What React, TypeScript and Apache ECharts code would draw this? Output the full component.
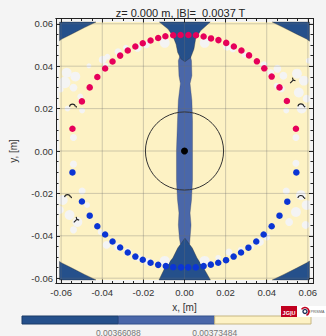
import React, { useEffect, useRef } from 'react';
import * as echarts from 'echarts';

// Axis extent and ticks (metres)
const AXIS_MIN = -0.0625;
const AXIS_MAX = 0.0625;
const MAJOR_TICKS = [-0.06, -0.04, -0.02, 0, 0.02, 0.04, 0.06];
const MINOR_TICKS = [
  -0.055, -0.05, -0.045, -0.035, -0.03, -0.025, -0.015, -0.01, -0.005,
  0.005, 0.01, 0.015, 0.025, 0.03, 0.035, 0.045, 0.05, 0.055,
];

// Sampled field extent (half width, metres)
const FIELD_HALF = 0.0608;

// Field levels and their colours (low -> high |B|)
const LEVEL_COLORS = ['#25508b', '#4a67a9', '#fdf2c4'];
const LEVEL_BREAKS = [0.00366088, 0.00373484];
const MISSING_COLOR = '#f4f4f4';

// Lowest level: corner regions and the funnels at top/bottom of the axis
const LOW_REGIONS: number[][][] = [
  [[-0.0608, 0.0608], [-0.0431, 0.0608], [-0.0487, 0.0582], [-0.055, 0.0551], [-0.0597, 0.0528], [-0.0608, 0.052]],
  [[0.0608, 0.0608], [0.0427, 0.0608], [0.0482, 0.0582], [0.0546, 0.0551], [0.0594, 0.0528], [0.0608, 0.0518]],
  [[-0.0608, -0.0608], [-0.0431, -0.0608], [-0.0487, -0.0582], [-0.055, -0.0551], [-0.0597, -0.0528], [-0.0608, -0.0521]],
  [[0.0608, -0.0608], [0.0427, -0.0608], [0.0484, -0.0582], [0.0548, -0.0551], [0.0595, -0.0527], [0.0608, -0.0519]],
  [[-0.0122, 0.0608], [-0.008, 0.0575], [-0.0057, 0.0543], [-0.0041, 0.0504], [-0.0033, 0.0465], [-0.0017, 0.0434],
   [0.0002, 0.0421], [0.003, 0.0441], [0.0046, 0.0481], [0.0054, 0.0528], [0.0078, 0.0567], [0.0125, 0.0608]],
  [[0.0002, -0.0411], [-0.0033, -0.0458], [-0.0057, -0.0505], [-0.0096, -0.0552], [-0.0124, -0.0608],
   [0.0126, -0.0608], [0.0093, -0.0552], [0.0061, -0.0505], [0.0038, -0.0458]],
];

// Middle level: narrow strip along x = 0
const MID_REGIONS: number[][][] = [
  [
    [-0.0022, 0.045], [-0.003, 0.0426], [-0.0027, 0.0355], [-0.002, 0.0318], [-0.003, 0.0238], [-0.0034, 0.0144],
    [-0.0039, 0.0003], [-0.0039, -0.0138], [-0.0034, -0.0231], [-0.0027, -0.0292], [-0.003, -0.0349],
    [-0.0025, -0.041], [-0.002, -0.044],
    [0.0025, -0.044], [0.0027, -0.041], [0.0032, -0.0349], [0.0027, -0.0292], [0.0034, -0.0231],
    [0.0039, -0.0138], [0.0039, 0.0003], [0.0039, 0.0144], [0.0036, 0.0238], [0.0027, 0.0318],
    [0.0036, 0.0355], [0.0034, 0.0426], [0.0028, 0.045],
  ],
];

// Unsampled patches [x, y, radius]
const MISSING_PATCHES: number[][] = [
  [-0.0398, 0.0431, 0.0019], [-0.0384, 0.0402, 0.0014], [-0.0465, 0.0402, 0.0012], [-0.0573, 0.0369, 0.0024],
  [-0.0531, 0.0351, 0.0024], [-0.0583, 0.0323, 0.0028], [-0.054, 0.0299, 0.0019], [-0.0602, 0.029, 0.0014],
  [-0.0507, 0.0257, 0.0014], [-0.0323, 0.0468, 0.0017], [-0.0285, 0.0487, 0.0014], [-0.0228, 0.0487, 0.0019],
  [-0.0186, 0.0501, 0.0017], [-0.0096, 0.051, 0.0024], [-0.0569, 0.02, 0.0014], [-0.0498, 0.0191, 0.0014],
  [-0.054, 0.0064, 0.0017], [-0.0375, 0.0445, 0.0014],
  [0.0098, 0.051, 0.0024], [0.0207, 0.0492, 0.0019], [0.0235, 0.0482, 0.0017], [0.0292, 0.0454, 0.0014],
  [0.0386, 0.0407, 0.0017], [0.0419, 0.0369, 0.0017], [0.0452, 0.0388, 0.0019], [0.0481, 0.0355, 0.0019],
  [0.0471, 0.0294, 0.0017], [0.0448, 0.0308, 0.0014], [0.0547, 0.0365, 0.0024], [0.058, 0.0332, 0.0024],
  [0.0556, 0.0276, 0.0024], [0.0594, 0.0247, 0.0019], [0.057, 0.02, 0.0024], [0.0495, 0.0191, 0.0014],
  [0.0542, 0.0064, 0.0017], [0.0604, 0.0426, 0.0014],
  [-0.054, -0.0062, 0.0017], [-0.0498, -0.0189, 0.0017], [-0.0592, -0.0231, 0.0024], [-0.0606, -0.0278, 0.0019],
  [-0.0559, -0.0302, 0.0024], [-0.0521, -0.0335, 0.0024], [-0.054, -0.0372, 0.0017], [-0.0408, -0.0382, 0.0014],
  [-0.0379, -0.0443, 0.0019], [-0.0323, -0.0452, 0.0019], [-0.0276, -0.0476, 0.0019], [-0.0224, -0.0504, 0.0017],
  [-0.0176, -0.0523, 0.0019], [-0.0096, -0.0518, 0.0024], [-0.0474, -0.0255, 0.0014],
  [0.0542, -0.0058, 0.0017], [0.0495, -0.0189, 0.0017], [0.0566, -0.0208, 0.0024], [0.0594, -0.0255, 0.0024],
  [0.0542, -0.0288, 0.0024], [0.0509, -0.0335, 0.0019], [0.0589, -0.0349, 0.0019], [0.0367, -0.0429, 0.0019],
  [0.04, -0.0405, 0.0017], [0.0325, -0.0452, 0.0014], [0.0216, -0.0476, 0.0017], [0.0098, -0.0518, 0.0024],
  [0.0164, -0.0504, 0.0014], [0.0273, -0.0466, 0.0014],
];

// Small contour fragments: [x, y, kind] (0 = arc, 1 = fork)
const CONTOUR_MARKS: number[][] = [
  [-0.0545, 0.0214, 0], [-0.0569, -0.0213, 0], [0.0566, -0.0217, 0], [0.0566, 0.0215, 0],
  [0.0526, 0.0332, 1], [-0.0526, -0.0325, 1],
];

// Reference circle around the origin
const REF_CIRCLE = [0, 0, 0.019];
const CENTER_POINT = [[0, 0]];

// Probe positions, upper arc (red) and lower arc (blue)
const UPPER_PROBES: number[][] = [
  [-0.0545, 0.0105], [-0.0499, 0.0234], [-0.0461, 0.03], [-0.0424, 0.0349], [-0.0386, 0.0389],
  [-0.035, 0.0422], [-0.0313, 0.045], [-0.0276, 0.0474], [-0.0239, 0.0493], [-0.0203, 0.0508],
  [-0.0165, 0.0521], [-0.0128, 0.0533], [-0.0093, 0.0541], [-0.0055, 0.0546], [-0.0019, 0.0547],
  [0.0019, 0.0547], [0.0056, 0.0546], [0.0093, 0.054], [0.0129, 0.0531], [0.0165, 0.0523],
  [0.0203, 0.051], [0.024, 0.0493], [0.0277, 0.0474], [0.0314, 0.0451], [0.0352, 0.0423],
  [0.0388, 0.039], [0.0424, 0.0351], [0.0462, 0.03], [0.0498, 0.0236], [0.0542, 0.0105],
];
const LOWER_PROBES: number[][] = [
  [-0.0545, -0.0101], [-0.0499, -0.0238], [-0.0461, -0.0305], [-0.0424, -0.0355], [-0.0386, -0.0394],
  [-0.035, -0.0427], [-0.0313, -0.0455], [-0.0276, -0.0479], [-0.0239, -0.0498], [-0.0203, -0.0513],
  [-0.0165, -0.0527], [-0.0128, -0.0537], [-0.0091, -0.0543], [-0.0055, -0.0548], [-0.0017, -0.0549],
  [0.0018, -0.0549], [0.0055, -0.0549], [0.0093, -0.0543], [0.0128, -0.0536], [0.0164, -0.0527],
  [0.0202, -0.0515], [0.0239, -0.0498], [0.0275, -0.0479], [0.0311, -0.0456], [0.0349, -0.0427],
  [0.0385, -0.0394], [0.0424, -0.0355], [0.0462, -0.0305], [0.05, -0.0239], [0.0544, -0.0101],
];

const TITLE = 'z= 0.000 m, |B|=  0.0037 T';
const FONT = '"Liberation Sans", Arial, sans-serif';

const GRID = { left: 48, top: 18.5, width: 265, height: 265 };
const COLORBAR = { left: 22, top: 316, width: 289, height: 8 };

function polygonSeries(polys: number[][][], fill: string, stroke: string, z: number) {
  return {
    type: 'custom',
    coordinateSystem: 'cartesian2d',
    silent: true,
    z,
    clip: true,
    data: polys.map((p, i) => [p[0][0], p[0][1], i]),
    encode: { x: 0, y: 1 },
    renderItem: (params: any, api: any) => {
      const poly = polys[params.dataIndex];
      return {
        type: 'polygon',
        shape: { points: poly.map((pt) => api.coord(pt)) },
        style: { fill, stroke, lineWidth: 0.7 },
      };
    },
  };
}

function axis(kind: 'x' | 'y', position: string, ticks: number[], len: number, labels: boolean, extra: any = {}) {
  return {
    type: 'value',
    min: AXIS_MIN,
    max: AXIS_MAX,
    position,
    z: 10,
    axisLine: { show: true, onZero: false, lineStyle: { color: '#222', width: 1 } },
    axisTick: { show: true, inside: true, length: len, customValues: ticks, lineStyle: { color: '#222', width: 1 } },
    axisLabel: labels
      ? {
          show: true,
          customValues: MAJOR_TICKS,
          formatter: (v: number) => v.toFixed(2),
          color: '#333',
          fontSize: 9.5,
          fontFamily: FONT,
          margin: kind === 'x' ? 4 : 3,
        }
      : { show: false },
    splitLine: { show: false },
    ...extra,
  };
}

export default function App() {
  const ref = useRef<HTMLDivElement>(null);

  useEffect(() => {
    document.body.style.margin = '0';
    const chart = echarts.init(ref.current!, undefined, { renderer: 'svg' });

    const nameStyle = { color: '#333', fontSize: 10, fontFamily: FONT };
    const xAxes = [
      axis('x', 'bottom', MAJOR_TICKS, 4, true, {
        name: 'x, [m]', nameLocation: 'middle', nameGap: 16, nameTextStyle: nameStyle,
      }),
      axis('x', 'top', MAJOR_TICKS, 4, false),
      axis('x', 'bottom', MINOR_TICKS, 2.5, false),
      axis('x', 'top', MINOR_TICKS, 2.5, false),
    ];
    const yAxes = [
      axis('y', 'left', MAJOR_TICKS, 4, true, {
        name: 'y, [m]', nameLocation: 'middle', nameGap: 38, nameRotate: 90, nameTextStyle: nameStyle,
      }),
      axis('y', 'right', MAJOR_TICKS, 4, false),
      axis('y', 'left', MINOR_TICKS, 2.5, false),
      axis('y', 'right', MINOR_TICKS, 2.5, false),
    ];

    const segW = COLORBAR.width / LEVEL_COLORS.length;
    const strokeFor = ['#1b3a66', '#33508a', '#c6b681'];
    const colorbar: any[] = LEVEL_COLORS.map((c, i) => ({
      type: 'rect',
      shape: { x: COLORBAR.left + i * segW, y: COLORBAR.top, width: segW, height: COLORBAR.height },
      style: { fill: c, stroke: strokeFor[i], lineWidth: 1 },
    }));
    LEVEL_BREAKS.forEach((b, i) => {
      colorbar.push({
        type: 'text',
        x: COLORBAR.left + (i + 1) * segW,
        y: COLORBAR.top + COLORBAR.height + 4,
        style: { text: String(b), fill: '#777', fontSize: 8.5, fontFamily: FONT, align: 'center', verticalAlign: 'top' },
      });
    });

    const logos: any[] = [
      { type: 'rect', shape: { x: 281, y: 306, width: 16, height: 11 }, style: { fill: '#c1001f' } },
      {
        type: 'text', x: 289, y: 313,
        style: { text: 'JG|U', fill: '#fff', fontSize: 5.5, fontWeight: 'bold', fontFamily: FONT, align: 'center', verticalAlign: 'middle' },
      },
      { type: 'rect', shape: { x: 297, y: 306, width: 30, height: 11 }, style: { fill: '#ffffff' } },
      { type: 'arc', shape: { cx: 305, cy: 311.5, r: 4, startAngle: -2.6, endAngle: 1.2 }, style: { stroke: '#c1001f', lineWidth: 1.6, fill: 'none' } },
      { type: 'arc', shape: { cx: 305, cy: 311.5, r: 2, startAngle: 0, endAngle: 6.28 }, style: { stroke: '#1d2f55', lineWidth: 1.4, fill: 'none' } },
      {
        type: 'text', x: 310.5, y: 312,
        style: { text: 'PRISMA', fill: '#555', fontSize: 3.6, fontFamily: FONT, align: 'left', verticalAlign: 'middle' },
      },
    ];

    chart.setOption({
      animation: false,
      backgroundColor: MISSING_COLOR,
      grid: { ...GRID, show: true, backgroundColor: MISSING_COLOR, borderWidth: 0, containLabel: false },
      xAxis: xAxes,
      yAxis: yAxes,
      graphic: [
        {
          type: 'text', x: GRID.left + GRID.width / 2, y: 13,
          style: { text: TITLE, fill: '#222', fontSize: 11, fontFamily: FONT, align: 'center', verticalAlign: 'middle' },
        },
        ...colorbar,
        ...logos,
      ],
      series: [
        // top level background
        polygonSeries(
          [[[-FIELD_HALF, -FIELD_HALF], [FIELD_HALF, -FIELD_HALF], [FIELD_HALF, FIELD_HALF], [-FIELD_HALF, FIELD_HALF]]],
          LEVEL_COLORS[2], 'none', 1,
        ),
        polygonSeries(MID_REGIONS, LEVEL_COLORS[1], 'rgba(50,60,90,0.45)', 2),
        polygonSeries(LOW_REGIONS, LEVEL_COLORS[0], 'rgba(50,50,50,0.55)', 3),
        {
          type: 'custom', coordinateSystem: 'cartesian2d', silent: true, z: 4, clip: true,
          data: MISSING_PATCHES, encode: { x: 0, y: 1 },
          renderItem: (params: any, api: any) => {
            const p = MISSING_PATCHES[params.dataIndex];
            const c = api.coord([p[0], p[1]]);
            return { type: 'circle', shape: { cx: c[0], cy: c[1], r: api.size([p[2], 0])[0] }, style: { fill: MISSING_COLOR } };
          },
        },
        // grid lines
        {
          type: 'custom', coordinateSystem: 'cartesian2d', silent: true, z: 5,
          data: MAJOR_TICKS.map((v) => [v, 0]), encode: { x: 0, y: 1 },
          renderItem: (params: any, api: any) => {
            const v = MAJOR_TICKS[params.dataIndex];
            const a = api.coord([v, AXIS_MIN]);
            const b = api.coord([v, AXIS_MAX]);
            const c = api.coord([AXIS_MIN, v]);
            const d = api.coord([AXIS_MAX, v]);
            return {
              type: 'group',
              children: [
                { type: 'line', shape: { x1: a[0], y1: a[1], x2: b[0], y2: b[1] }, style: { stroke: 'rgba(110,110,110,0.32)', lineWidth: 1 } },
                { type: 'line', shape: { x1: c[0], y1: c[1], x2: d[0], y2: d[1] }, style: { stroke: 'rgba(110,110,110,0.32)', lineWidth: 1 } },
              ],
            };
          },
        },
        // reference circle
        {
          type: 'custom', coordinateSystem: 'cartesian2d', silent: true, z: 6,
          data: [REF_CIRCLE], encode: { x: 0, y: 1 },
          renderItem: (params: any, api: any) => {
            const c = api.coord([REF_CIRCLE[0], REF_CIRCLE[1]]);
            return { type: 'circle', shape: { cx: c[0], cy: c[1], r: api.size([REF_CIRCLE[2], 0])[0] }, style: { fill: 'none', stroke: '#333', lineWidth: 1 } };
          },
        },
        // contour fragments
        {
          type: 'custom', coordinateSystem: 'cartesian2d', silent: true, z: 6,
          data: CONTOUR_MARKS, encode: { x: 0, y: 1 },
          renderItem: (params: any, api: any) => {
            const m = CONTOUR_MARKS[params.dataIndex];
            const c = api.coord([m[0], m[1]]);
            const style = { stroke: '#222', lineWidth: 1.1, fill: 'none' };
            if (m[2] === 0) {
              return {
                type: 'group',
                children: [
                  { type: 'arc', shape: { cx: c[0], cy: c[1] + 1.5, r: 3, startAngle: Math.PI * 1.05, endAngle: Math.PI * 1.95 }, style },
                  { type: 'circle', shape: { cx: c[0] + 3.8, cy: c[1] + 1.2, r: 0.7 }, style: { fill: '#222' } },
                ],
              };
            }
            return {
              type: 'group',
              children: [
                { type: 'line', shape: { x1: c[0] - 2.5, y1: c[1] + 2.5, x2: c[0] + 0.5, y2: c[1] - 0.5 }, style },
                { type: 'line', shape: { x1: c[0] + 0.5, y1: c[1] - 0.5, x2: c[0] + 2.8, y2: c[1] + 0.2 }, style },
                { type: 'line', shape: { x1: c[0] + 0.5, y1: c[1] - 0.5, x2: c[0] - 0.2, y2: c[1] - 3 }, style },
              ],
            };
          },
        },
        {
          type: 'scatter', silent: true, z: 7, symbol: 'circle', symbolSize: 6.5,
          data: UPPER_PROBES, itemStyle: { color: '#e6005a', opacity: 1 },
        },
        {
          type: 'scatter', silent: true, z: 7, symbol: 'circle', symbolSize: 6.5,
          data: LOWER_PROBES, itemStyle: { color: '#0b35d4', opacity: 1 },
        },
        {
          type: 'scatter', silent: true, z: 7, symbol: 'circle', symbolSize: 7,
          data: CENTER_POINT, itemStyle: { color: '#000', opacity: 1 },
        },
      ],
    });

    return () => chart.dispose();
  }, []);

  return (
    <div
      ref={ref}
      style={{ position: 'absolute', left: 0, top: 0, width: 326, height: 336, background: MISSING_COLOR }}
    />
  );
}
